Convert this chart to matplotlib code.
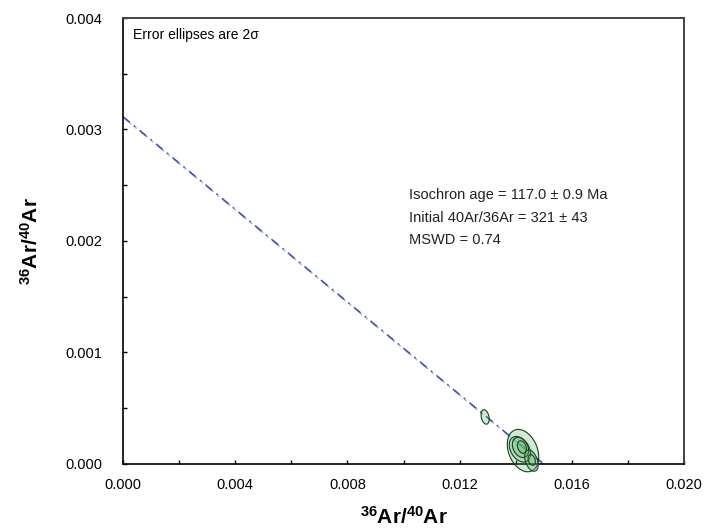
import numpy as np
import matplotlib
matplotlib.use("Agg")
import matplotlib.pyplot as plt
import matplotlib.patheffects as pe
from matplotlib.ticker import MultipleLocator, FormatStrFormatter

plt.rcParams['font.family'] = ['Liberation Sans', 'DejaVu Sans']
plt.rcParams['mathtext.fontset'] = 'custom'
plt.rcParams['mathtext.rm'] = 'Liberation Sans'
plt.rcParams['mathtext.bf'] = 'Liberation Sans:bold'
plt.rcParams['lines.scale_dashes'] = False

# step data: x, 2sigma x, y, 2sigma y, error correlation
x_val = [0.01291, 0.01426, 0.01415, 0.01417, 0.01422, 0.01456, 0.01457]
x_err = [1.45e-4, 5.6e-4, 3.8e-4, 2.9e-4, 1.6e-4, 2.4e-4, 1.3e-4]
y_val = [0.000422, 0.000120, 0.000132, 0.000148, 0.000152, 0.000030, 0.000036]
y_err = [6.5e-5, 1.9e-4, 1.15e-4, 9.0e-5, 5.6e-5, 9.5e-5, 4.8e-5]
rho = [-0.3, -0.3, -0.35, -0.3, -0.3, -0.4, -0.3]

# isochron fit
y_intercept = 0.003115
x_intercept = 0.0150

fig = plt.figure(figsize=(7.21, 5.31), dpi=100)
ax = fig.add_axes([0.1706, 0.1262, 0.7781, 0.8399])

lx = np.array([0.0, x_intercept])
ly = y_intercept * (1 - lx / x_intercept)
ax.plot(lx, ly, color='#3a4fc0', lw=1.1, linestyle=(0, (6.2, 3.9, 1.4, 3.9)),
        path_effects=[pe.SimpleLineShadow(offset=(1, -1.2), shadow_color='#888888', alpha=0.7),
                      pe.Normal()], zorder=2)

t = np.linspace(0, 2 * np.pi, 200)
for i in range(len(x_val)):
    ex = x_val[i] + x_err[i] * np.cos(t)
    ey = y_val[i] + y_err[i] * (rho[i] * np.cos(t) + np.sqrt(1 - rho[i] ** 2) * np.sin(t))
    ax.fill(ex, ey, facecolor=(0.35, 0.72, 0.42, 0.28), edgecolor='#1d3f22',
            lw=0.8, zorder=3, clip_on=False)

ax.set_xlim(0, 0.020)
ax.set_ylim(0, 0.004)
ax.xaxis.set_major_locator(MultipleLocator(0.004))
ax.xaxis.set_minor_locator(MultipleLocator(0.002))
ax.yaxis.set_major_locator(MultipleLocator(0.001))
ax.yaxis.set_minor_locator(MultipleLocator(0.0005))
ax.xaxis.set_major_formatter(FormatStrFormatter('%.3f'))
ax.yaxis.set_major_formatter(FormatStrFormatter('%.3f'))
ax.tick_params(which='both', direction='in', length=3, width=1, labelsize=10.5,
               top=False, right=False)
ax.tick_params(axis='x', which='major', pad=10)
ax.tick_params(axis='y', which='major', pad=15)

for s in ['left', 'bottom']:
    ax.spines[s].set_linewidth(1.2)
    ax.spines[s].set_color('black')
for s in ['top', 'right']:
    ax.spines[s].set_linewidth(1.4)
    ax.spines[s].set_color('#444444')

ax.set_xlabel(r'$\mathbf{^{36}Ar/^{40}Ar}$', fontsize=15)
ax.set_ylabel(r'$\mathbf{^{36}Ar/^{40}Ar}$', fontsize=15)
ax.xaxis.set_label_coords(0.5, -0.094)
ax.yaxis.set_label_coords(-0.145, 0.5)

ax.text(0.018, 0.962, 'Error ellipses are 2σ', transform=ax.transAxes,
        fontsize=10, va='center', ha='left')
ax.text(0.51, 0.603, 'Isochron age = 117.0 ± 0.9 Ma', transform=ax.transAxes,
        fontsize=10.5, va='center', ha='left', color='#222222')
ax.text(0.51, 0.552, 'Initial 40Ar/36Ar = 321 ± 43', transform=ax.transAxes,
        fontsize=10.5, va='center', ha='left', color='#222222')
ax.text(0.51, 0.502, 'MSWD = 0.74', transform=ax.transAxes,
        fontsize=10.5, va='center', ha='left', color='#222222')

fig.savefig('out.png', dpi=100)
